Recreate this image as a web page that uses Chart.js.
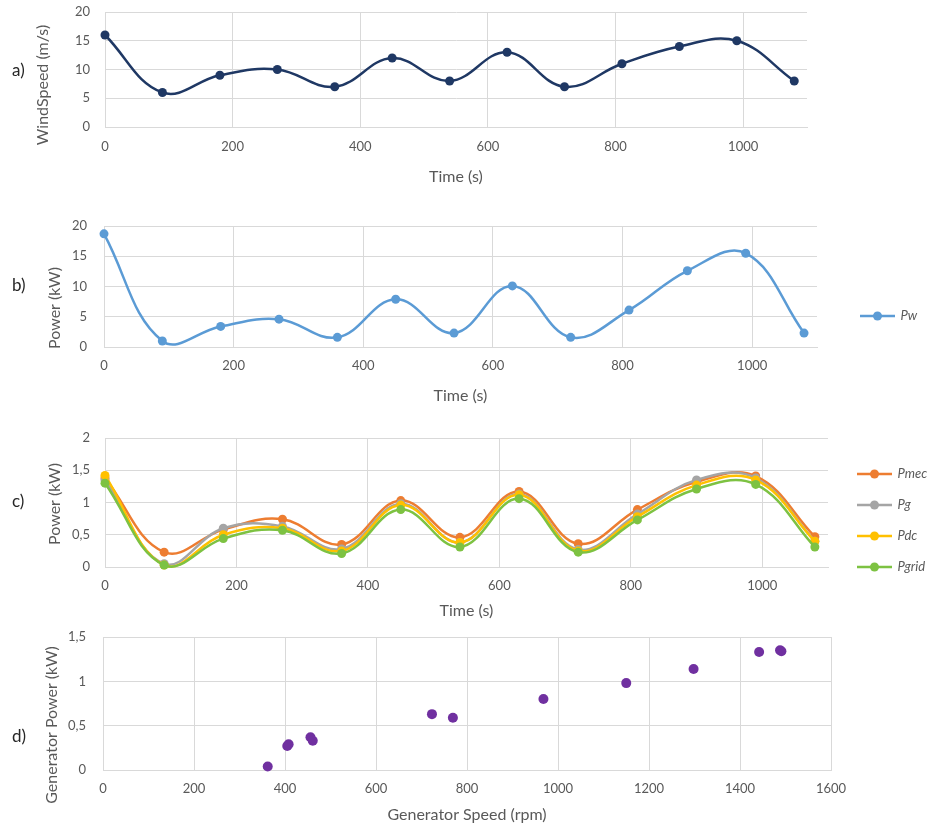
<!DOCTYPE html>
<html><head><meta charset="utf-8">
<script src="https://cdn.jsdelivr.net/npm/chart.js@4"></script>
<style>
html,body{margin:0;padding:0;background:#fff;width:932px;height:826px;overflow:hidden;}
canvas{position:absolute;left:0;}
.lbl{position:absolute;left:12px;font:17px Lato;line-height:20px;color:#262626;}
</style></head><body>
<canvas id="ca" width="932" height="195" style="top:0px"></canvas>
<canvas id="cb" width="932" height="215" style="top:195px"></canvas>
<canvas id="cc" width="932" height="210" style="top:410px"></canvas>
<canvas id="cd" width="932" height="206" style="top:620px"></canvas>
<div class="lbl" style="top:60px">a)</div>
<div class="lbl" style="top:275px">b)</div>
<div class="lbl" style="top:491px">c)</div>
<div class="lbl" style="top:726px">d)</div>
<script>
// ---- data ----
const time = [0, 90, 180, 270, 360, 450, 540, 630, 720, 810, 900, 990, 1080];
const windSpeed = [16, 6, 9, 10, 7, 12, 8, 13, 7, 11, 14, 15, 8];
const pw = [18.7, 1.0, 3.4, 4.6, 1.6, 7.9, 2.3, 10.1, 1.6, 6.1, 12.6, 15.5, 2.3];
const pmec = [1.38, 0.23, 0.58, 0.74, 0.35, 1.03, 0.46, 1.17, 0.36, 0.89, 1.32, 1.41, 0.47];
const pg = [1.35, 0.05, 0.60, 0.63, 0.28, 0.98, 0.38, 1.13, 0.27, 0.82, 1.35, 1.38, 0.40];
const pdc = [1.42, 0.03, 0.50, 0.60, 0.25, 0.96, 0.38, 1.12, 0.25, 0.78, 1.27, 1.35, 0.40];
const pgrid = [1.30, 0.03, 0.44, 0.57, 0.21, 0.89, 0.31, 1.06, 0.23, 0.73, 1.21, 1.28, 0.31];
const genSpeed = [362, 405, 408, 456, 461, 723, 769, 968, 1150, 1298, 1442, 1488, 1491];
const genPower = [0.04, 0.27, 0.29, 0.37, 0.33, 0.63, 0.59, 0.80, 0.98, 1.14, 1.33, 1.35, 1.34];
const seriesC = ['Pmec', 'Pg', 'Pdc', 'Pgrid'];
const colorsC = ['#ED7D31', '#A5A5A5', '#FFC000', '#7DC242'];

// ---- style helpers ----
const TXT = '#595959', GRID = '#D9D9D9';
const TICK = {family: 'Lato', size: 13};
const fmt = v => String(v).replace('.', ',');
const pts = (xs, ys) => xs.map((x, i) => ({x, y: ys[i]}));

function yTitle(text, cx, cy) {
  return {id: 'yTitle', afterDraw(chart) {
    const c = chart.ctx; c.save(); c.translate(cx, cy); c.rotate(-Math.PI / 2);
    c.font = '16px Lato'; c.fillStyle = TXT; c.textAlign = 'center'; c.textBaseline = 'middle';
    c.fillText(text, 0, 0); c.restore();
  }};
}
function legendPlace(W, itemX, firstCY) {
  return {id: 'legendPlace',
    beforeLayout(chart) {
      const lg = chart.legend;
      if (lg && !lg.__fixed) { const f = lg.fit; lg.fit = function () { f.call(this); this.width = W; }; lg.__fixed = true; }
    },
    afterLayout(chart) {
      const lg = chart.legend, pad = 18, fs = 13;
      lg.left = itemX - pad; lg.right = lg.left + W; lg.top = firstCY - fs / 2 - pad; lg.bottom = chart.height;
    }};
}
function icon(color) {
  const c = document.createElement('canvas'); c.width = 35; c.height = 12;
  const g = c.getContext('2d');
  g.strokeStyle = color; g.lineWidth = 2.5; g.beginPath(); g.moveTo(0, 6); g.lineTo(35, 6); g.stroke();
  g.fillStyle = color; g.beginPath(); g.arc(17.5, 6, 4.5, 0, Math.PI * 2); g.fill();
  return c;
}
function legendOpts(display) {
  return {display, position: 'right', align: 'start',
    labels: {usePointStyle: true, pointStyleWidth: 33, boxHeight: 12, padding: 18, color: TXT,
      font: {family: 'Lato', size: 13, style: 'italic'},
      generateLabels: chart => chart.data.datasets.map((ds, i) => ({
        text: ds.label, pointStyle: icon(ds.borderColor), fillStyle: ds.borderColor,
        strokeStyle: ds.borderColor, lineWidth: 0, hidden: false, datasetIndex: i, fontColor: TXT}))}};
}
function xScale(max, tickPad, h, title, titlePadB) {
  return {type: 'linear', min: 0, max,
    ticks: {stepSize: 200, includeBounds: false, padding: tickPad, color: TXT, font: TICK, maxRotation: 0,
      autoSkip: false, callback: v => String(v)},
    grid: {color: GRID, drawTicks: false}, border: {color: GRID},
    title: {display: true, text: title, color: TXT, font: {family: 'Lato', size: 16}, padding: {top: 0, bottom: titlePadB}},
    afterFit: s => { s.height = h; s.paddingLeft = 0; s.paddingRight = 0; }};
}
function yScale(max, step, tickPad, w, comma) {
  return {type: 'linear', min: 0, max,
    ticks: {stepSize: step, padding: tickPad, color: TXT, font: TICK, callback: v => comma ? fmt(v) : String(v)},
    grid: {color: GRID, drawTicks: false}, border: {color: GRID},
    afterFit: s => { s.width = w; s.paddingTop = 0; s.paddingBottom = 0; }};
}
const lineDs = (label, data, color, order) => ({label, data, borderColor: color, backgroundColor: color, order,
  borderWidth: 2.5, pointRadius: 4.5, pointBorderWidth: 0, tension: 0.4, capBezierPoints: false, clip: false});
const base = {responsive: false, animation: false, events: []};

// a) wind speed
new Chart(document.getElementById('ca'), {
  type: 'line',
  data: {datasets: [lineDs('WindSpeed', pts(time, windSpeed), '#1F3864', 0)]},
  options: {...base, layout: {padding: {top: 12, right: 125, left: 0, bottom: 0}},
    plugins: {legend: {display: false}, tooltip: {enabled: false}},
    scales: {x: xScale(1100, 12, 68, 'Time (s)', 9), y: yScale(20, 5, 15, 105, false)}},
  plugins: [yTitle('WindSpeed (m/s)', 43, 85)]
});

// b) wind power
new Chart(document.getElementById('cb'), {
  type: 'line',
  data: {datasets: [lineDs('Pw', pts(time, pw), '#5B9BD5', 0)]},
  options: {...base, layout: {padding: {top: 31, right: 0, left: 0, bottom: 0}},
    plugins: {legend: legendOpts(true), tooltip: {enabled: false}},
    scales: {x: xScale(1100, 11, 63, 'Time (s)', 5), y: yScale(20, 5, 17, 104, false)}},
  plugins: [yTitle('Power (kW)', 55, 113), legendPlace(115, 861, 121)]
});

// c) power chain
const seriesCData = [pmec, pg, pdc, pgrid];
new Chart(document.getElementById('cc'), {
  type: 'line',
  data: {datasets: seriesC.map((n, i) => lineDs(n, pts(time, seriesCData[i]), colorsC[i], 3 - i))},
  options: {...base, layout: {padding: {top: 28, right: 0, left: 0, bottom: 0}},
    plugins: {legend: legendOpts(true), tooltip: {enabled: false}},
    scales: {x: xScale(1100, 11, 53, 'Time (s)', 0), y: yScale(2, 0.5, 15, 105, true)}},
  plugins: [yTitle('Power (kW)', 55, 94), legendPlace(104, 858, 64)]
});

// d) generator power vs speed
new Chart(document.getElementById('cd'), {
  type: 'scatter',
  data: {datasets: [{label: 'Pg', data: pts(genSpeed, genPower), backgroundColor: '#7030A0', borderColor: '#7030A0',
    pointRadius: 5, pointBorderWidth: 0, clip: false}]},
  options: {...base, layout: {padding: {top: 17, right: 101, left: 0, bottom: 0}},
    plugins: {legend: {display: false}, tooltip: {enabled: false}},
    scales: {x: xScale(1600, 11, 56, 'Generator Speed (rpm)', 2), y: yScale(1.5, 0.5, 17, 103, true)}},
  plugins: [yTitle('Generator Power (kW)', 52, 105)]
});
</script>
</body></html>
